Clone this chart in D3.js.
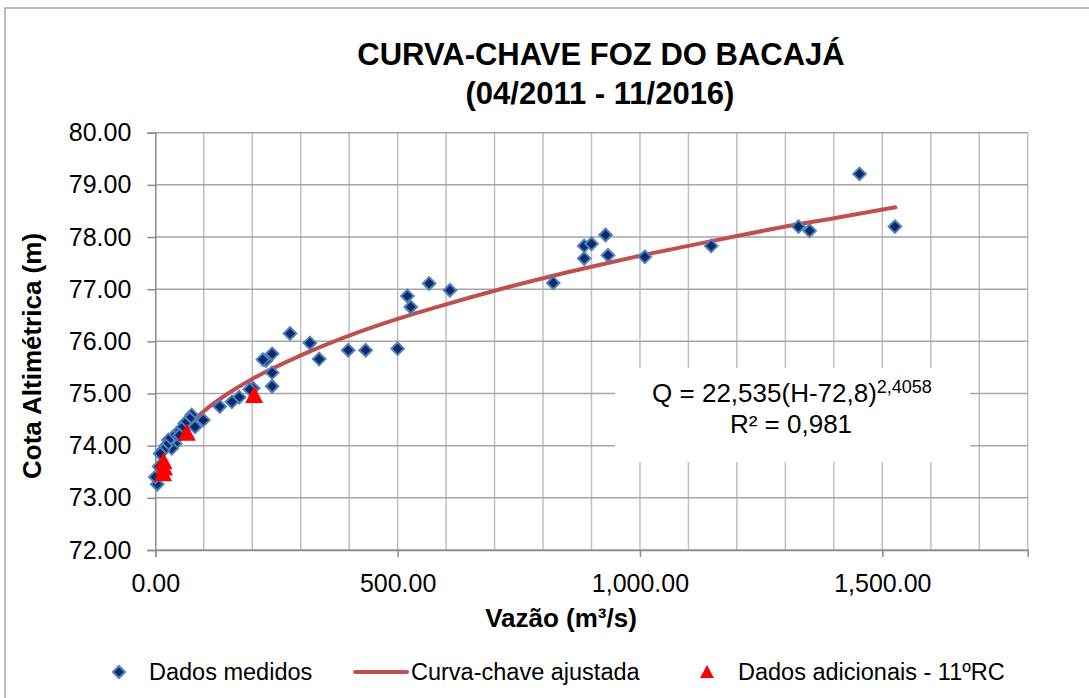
<!DOCTYPE html>
<html>
<head>
<meta charset="utf-8">
<script src="https://cdn.jsdelivr.net/npm/d3@7"></script>
<style>
  body { margin: 0; background: #fff; }
  svg { font-family: "Liberation Sans", Arial, sans-serif; }
</style>
</head>
<body>
<svg id="chart" width="1089" height="698"></svg>
<script>
// measured discharge (m3/s) and stage (m)
var medidosQ = [1453, 1526, 1327, 1350, 1147, 1010, 821, 885, 900, 929, 885, 934,
    608, 565, 520, 527, 500, 434, 398, 338, 319, 278, 241, 228, 222, 241, 241,
    202, 195, 173, 158, 133, 99, 82, 75, 71, 61, 54, 44, 41, 37, 34, 27, 22,
    50, 16, 10, 8, 4, 0];
var medidosH = [79.21, 78.20, 78.20, 78.12, 77.83, 77.62, 77.12, 77.83, 77.87, 78.04, 77.59, 77.65,
    76.98, 77.11, 76.87, 76.66, 75.86, 75.83, 75.83, 75.66, 75.97, 76.15, 75.76, 75.63, 75.65, 75.40, 75.14,
    75.10, 75.08, 74.93, 74.84, 74.75, 74.49, 74.36, 74.59, 74.52, 74.43, 74.33, 74.23, 74.04, 74.17, 73.95, 74.11, 74.00,
    74.20, 73.91, 73.85, 73.60, 73.26, 73.40];

// fitted rating curve points
var curvaQ = [40, 70, 100, 150, 200, 300, 400, 500, 600, 700, 800, 900, 1000, 1100, 1200, 1300, 1400, 1527];
var curvaH = [74.07, 74.40, 74.66, 75.00, 75.28, 75.73, 76.11, 76.43, 76.71, 76.97, 77.21, 77.43, 77.64, 77.83, 78.02, 78.20, 78.36, 78.57];

// additional data - 11th RC
var adicQ = [204, 65, 17, 16, 18];
var adicH = [74.97, 74.25, 73.70, 73.47, 73.58];

var xTicks = [0, 500, 1000, 1500];
var yTicks = [72, 73, 74, 75, 76, 77, 78, 79, 80];

var svg = d3.select("#chart");
var plotLeft = 155.3, plotRight = 1027.7, plotTop = 132.7, plotBottom = 550;

var x = d3.scaleLinear().domain([0, 1800]).range([plotLeft, plotRight]);
var y = d3.scaleLinear().domain([72, 80]).range([plotBottom, plotTop]);
var fmt = d3.format(",.2f");

// outer chart border
svg.append("rect")
    .attr("x", 5).attr("y", 8)
    .attr("width", 1100).attr("height", 720)
    .attr("fill", "none")
    .attr("stroke", "#a6a6a6")
    .attr("stroke-width", 1.5);

// vertical gridlines (every 100)
svg.append("g").selectAll("line")
    .data(d3.range(100, 1801, 100))
    .enter().append("line")
    .attr("x1", d => x(d)).attr("x2", d => x(d))
    .attr("y1", plotTop).attr("y2", plotBottom)
    .attr("stroke", "#bfbfbf")
    .attr("stroke-width", 1.5);

// horizontal gridlines
svg.append("g").selectAll("line")
    .data(yTicks)
    .enter().append("line")
    .attr("x1", plotLeft).attr("x2", plotRight)
    .attr("y1", d => y(d)).attr("y2", d => y(d))
    .attr("stroke", "#a6a6a6")
    .attr("stroke-width", 1.5);

// axes
var yAxis = svg.append("g")
    .attr("transform", "translate(" + plotLeft + ",0)")
    .call(d3.axisLeft(y).tickValues(yTicks).tickFormat(fmt).tickSize(8).tickPadding(16));
var xAxis = svg.append("g")
    .attr("transform", "translate(0," + plotBottom + ")")
    .call(d3.axisBottom(x).tickValues(xTicks).tickFormat(fmt).tickSize(7).tickPadding(17));

[yAxis, xAxis].forEach(function (a) {
    a.select(".domain").attr("stroke", "#8c8c8c").attr("stroke-width", 1.5);
    a.selectAll(".tick line").attr("stroke", "#8c8c8c").attr("stroke-width", 1.5);
    a.selectAll("text")
        .attr("fill", "#000")
        .style("font-size", "25px")
        .style("font-family", "'Liberation Sans', Arial, sans-serif");
});

// fitted curve (drawn under the markers)
var curvaPts = curvaQ.map((q, i) => [q, curvaH[i]]);
svg.append("path")
    .datum(curvaPts)
    .attr("d", d3.line().x(d => x(d[0])).y(d => y(d[1])).curve(d3.curveMonotoneX))
    .attr("fill", "none")
    .attr("stroke", "#c0504d")
    .attr("stroke-width", 4)
    .attr("stroke-linecap", "round");

var diamond = "M0,-6.3L6.3,0L0,6.3L-6.3,0Z";
var triangle = "M0,-9L9,8L-9,8Z";

var medPts = medidosQ.map((q, i) => [q, medidosH[i]]);
svg.append("g").selectAll("path")
    .data(medPts)
    .enter().append("path")
    .attr("d", diamond)
    .attr("transform", d => "translate(" + x(d[0]) + "," + y(d[1]) + ")")
    .attr("fill", "#0b2a68")
    .attr("stroke", "#4f81bd")
    .attr("stroke-width", 2);

var adicPts = adicQ.map((q, i) => [q, adicH[i]]);
svg.append("g").selectAll("path")
    .data(adicPts)
    .enter().append("path")
    .attr("d", triangle)
    .attr("transform", d => "translate(" + x(d[0]) + "," + y(d[1]) + ")")
    .attr("fill", "#ff0000");

// equation box
var eq = svg.append("g");
eq.append("rect")
    .attr("x", 615).attr("y", 368)
    .attr("width", 355).attr("height", 94)
    .attr("fill", "#fff");
var t1 = eq.append("text")
    .attr("x", 792).attr("y", 402)
    .attr("text-anchor", "middle")
    .style("font-size", "26px");
t1.append("tspan").text("Q = 22,535(H-72,8)");
t1.append("tspan").attr("dy", -9).style("font-size", "18px").text("2,4058");
eq.append("text")
    .attr("x", 791).attr("y", 433)
    .attr("text-anchor", "middle")
    .style("font-size", "26px")
    .text("R² = 0,981");

// titles
svg.append("text")
    .attr("x", 601).attr("y", 65)
    .attr("text-anchor", "middle")
    .style("font-size", "31px").style("font-weight", "bold")
    .text("CURVA-CHAVE FOZ DO BACAJÁ");
svg.append("text")
    .attr("x", 600).attr("y", 104)
    .attr("text-anchor", "middle")
    .style("font-size", "31px").style("font-weight", "bold")
    .text("(04/2011 - 11/2016)");

svg.append("text")
    .attr("x", 561).attr("y", 627)
    .attr("text-anchor", "middle")
    .style("font-size", "26px").style("font-weight", "bold")
    .text("Vazão (m³/s)");

svg.append("text")
    .attr("transform", "translate(41,356) rotate(-90)")
    .attr("text-anchor", "middle")
    .style("font-size", "26px").style("font-weight", "bold")
    .text("Cota Altimétrica (m)");

// legend
var lg = svg.append("g");
lg.append("path").attr("d", "M0,-6L6,0L0,6L-6,0Z")
    .attr("transform", "translate(119,672)")
    .attr("fill", "#0b2a68").attr("stroke", "#4f81bd").attr("stroke-width", 2);
lg.append("text").attr("x", 149).attr("y", 680).style("font-size", "23.5px").text("Dados medidos");
lg.append("line").attr("x1", 355).attr("x2", 407).attr("y1", 672).attr("y2", 672)
    .attr("stroke", "#c0504d").attr("stroke-width", 4).attr("stroke-linecap", "round");
lg.append("text").attr("x", 411).attr("y", 680).style("font-size", "23.5px").text("Curva-chave ajustada");
lg.append("path").attr("d", "M0,-7L7,6L-7,6Z")
    .attr("transform", "translate(707,672)")
    .attr("fill", "#ff0000");
lg.append("text").attr("x", 738).attr("y", 680).style("font-size", "23.5px").text("Dados adicionais - 11ºRC");
</script>
</body>
</html>
